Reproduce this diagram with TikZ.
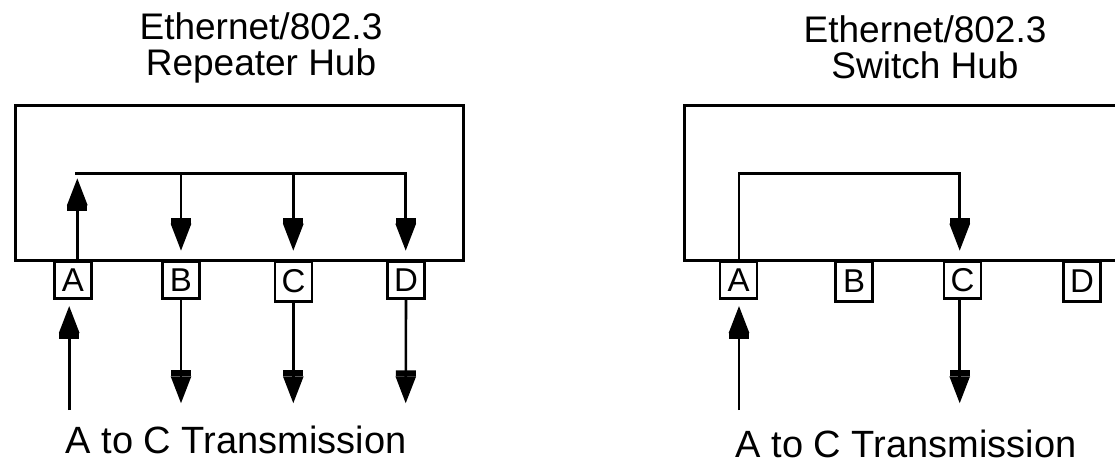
\documentclass[tikz,border=0pt]{standalone}
\usepackage{fontspec}
\setmainfont{Liberation Sans}
\usetikzlibrary{arrows.meta}

\begin{document}
\begin{tikzpicture}[x=1pt,y=-1pt,
  hub/.style={draw, line width=3pt, inner sep=0pt},
  port/.style={draw, line width=2.6pt, inner sep=0pt, anchor=north,
    minimum width=37pt, font=\fontsize{33}{33}\selectfont},
  wire/.style={line width=2.6pt},
  flow/.style={wire, -{Rectangle[width=20pt,length=6pt,sep=0pt]Triangle[width=20pt,length=27pt,sep=0pt]}},
  heading/.style={align=center, inner sep=0pt, anchor=base,
    font=\fontsize{37}{36}\selectfont},
  caption/.style={inner sep=0pt, anchor=base, font=\fontsize{38}{38}\selectfont}]
\clip (0,0) rectangle (1115,463);
\fill[white] (0,0) rectangle (1115,463);

% ---------- repeater hub ----------
\node[heading] (t1) at (261,75) {Ethernet/802.3\\Repeater Hub};
\node[hub, minimum width=447.7pt, minimum height=154.2pt] (h1) at (239.2,182.9) {};
\node[port, minimum height=37pt] (a1) at (73,260) {A};
\node[port, minimum height=37pt] (b1) at (181,260) {B};
\node[port, minimum height=40pt] (c1) at (293.5,260) {C};
\node[port, minimum height=37pt] (d1) at (406,260) {D};

\coordinate (upA1) at (77.3,178.3);
\coordinate (busL1) at (75.3,173.3);
\coordinate (busB1) at (181,173.3);
\coordinate (busC1) at (293.3,173.3);
\coordinate (busD1) at (405.7,173.3);
\coordinate (tipB1) at (181,250.7);
\coordinate (tipC1) at (293.3,250.7);
\coordinate (tipD1) at (405.7,250.7);

\draw[flow] (upA1 |- h1.south) -- (upA1);
\draw[flow] (busL1) -- (busD1) -- (tipD1);
\draw[flow] (busB1) -- (tipB1);
\draw[flow] (busC1) -- (tipC1);

\coordinate (inA1) at (69.2,410);
\coordinate (inTip1) at (69.2,306);
\coordinate (outB1) at (181,403.3);
\coordinate (outC1) at (293.3,403.3);
\coordinate (outD1) at (405.7,403.3);
\draw[flow] (inA1) -- (inTip1);
\draw[flow] (b1.south) -- (outB1);
\draw[flow] (outC1 |- c1.south) -- (outC1);
\draw[flow] (d1.south) -- (outD1);

\node[caption] (cap1) at (236,453) {A to C Transmission};

% ---------- switch hub ----------
\node[heading] (t2) at (925,78) {Ethernet/802.3\\Switch Hub};
\node[hub, minimum width=445.3pt, minimum height=154.2pt] (h2) at (907.4,182.9) {};
\node[port, minimum height=37pt] (a2) at (738.5,260) {A};
\node[port, minimum height=40pt] (b2) at (854,260) {B};
\node[port, minimum height=37pt] (c2) at (962.5,260) {C};
\node[port, minimum height=40pt] (d2) at (1082,260) {D};

\coordinate (cornerA2) at (739,173.3);
\coordinate (cornerC2) at (959.7,173.3);
\coordinate (tipC2) at (959.7,250.7);
\draw[flow] (cornerA2 |- h2.south) -- (cornerA2) -- (cornerC2) -- (tipC2);

\coordinate (inA2) at (739,410);
\coordinate (inTip2) at (739,306);
\coordinate (outC2) at (959.7,403.3);
\draw[flow] (inA2) -- (inTip2);
\draw[flow] (outC2 |- c2.south) -- (outC2);

\node[caption] (cap2) at (906,457.5) {A to C Transmission};
\end{tikzpicture}
\end{document}
